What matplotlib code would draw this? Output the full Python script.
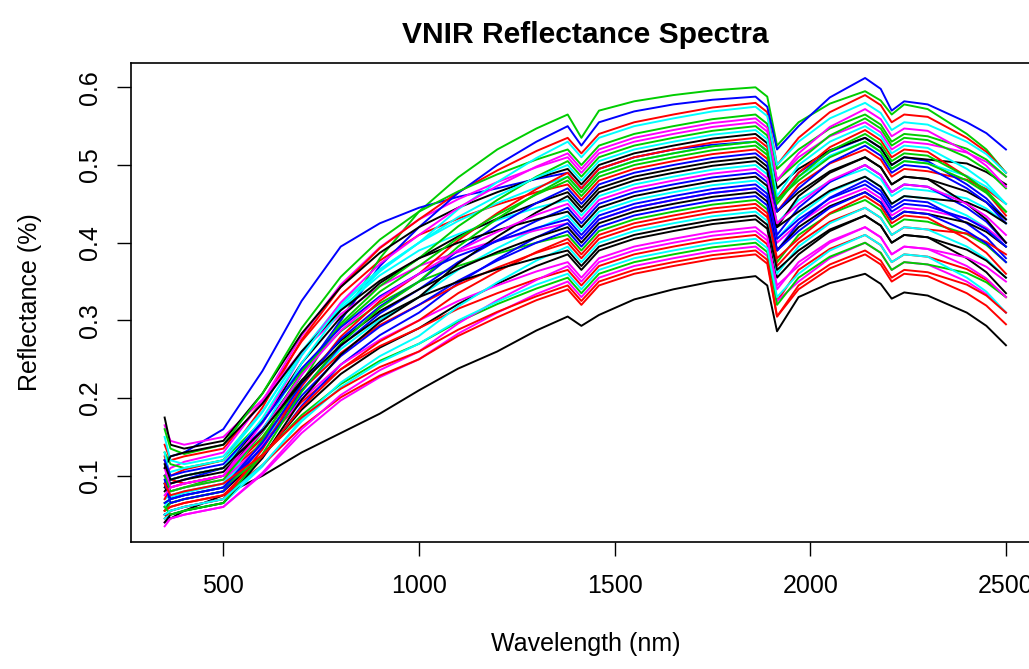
import numpy as np
import matplotlib
matplotlib.use('Agg')
import matplotlib.pyplot as plt

wavelengths = [350, 365, 400, 500, 600, 700, 800, 900, 1000, 1100, 1200, 1300, 1380, 1415, 1460, 1550,
               1650, 1750, 1860, 1890, 1915, 1970, 2050, 2140, 2180, 2208, 2240, 2300, 2400, 2450, 2500]

# one row per sample spectrum, reflectance at the wavelengths above
reflectance = [
    [.050, .045, .055, .075, .100, .130, .155, .180, .210, .238, .260, .287, .305, .293, .307, .327, .340, .350, .357, .345, .286, .330, .348, .360, .347, .328, .336, .332, .310, .293, .268],
    [.140, .120, .125, .135, .196, .273, .333, .377, .410, .431, .449, .465, .475, .455, .480, .495, .505, .514, .520, .508, .440, .475, .502, .520, .507, .485, .495, .492, .481, .469, .450],
    [.090, .080, .085, .100, .150, .220, .300, .380, .440, .484, .520, .547, .565, .535, .570, .582, .590, .596, .600, .588, .525, .555, .579, .595, .583, .565, .578, .572, .540, .520, .490],
    [.120, .125, .130, .160, .235, .325, .395, .425, .445, .459, .470, .482, .490, .470, .495, .510, .520, .526, .530, .518, .455, .490, .517, .535, .522, .500, .510, .505, .475, .457, .430],
    [.070, .075, .080, .090, .143, .210, .263, .301, .330, .365, .393, .418, .435, .415, .440, .455, .465, .474, .480, .468, .405, .435, .465, .485, .472, .450, .460, .457, .435, .419, .395],
    [.100, .110, .118, .130, .196, .280, .346, .394, .430, .456, .478, .497, .510, .490, .515, .530, .540, .549, .555, .543, .480, .510, .537, .555, .542, .520, .530, .527, .516, .504, .485],
    [.060, .065, .070, .080, .126, .185, .231, .265, .290, .321, .347, .370, .385, .365, .390, .405, .415, .424, .430, .418, .355, .385, .415, .435, .422, .400, .410, .407, .380, .362, .335],
    [.125, .100, .108, .120, .188, .275, .343, .393, .430, .465, .493, .518, .535, .515, .540, .555, .565, .574, .580, .568, .500, .535, .568, .590, .577, .555, .565, .562, .535, .517, .490],
    [.130, .115, .110, .120, .171, .235, .286, .322, .350, .370, .386, .400, .410, .390, .415, .430, .440, .449, .455, .443, .375, .410, .437, .455, .442, .420, .430, .427, .411, .397, .375],
    [.100, .090, .095, .110, .160, .230, .300, .370, .420, .464, .500, .530, .550, .525, .555, .569, .578, .584, .588, .575, .520, .550, .587, .612, .598, .570, .582, .578, .555, .541, .520],
    [.150, .120, .115, .125, .183, .258, .316, .358, .390, .411, .429, .445, .455, .435, .460, .475, .485, .494, .500, .488, .425, .455, .479, .495, .482, .460, .470, .467, .457, .444, .425],
    [.165, .145, .140, .150, .198, .260, .308, .344, .370, .388, .403, .416, .425, .405, .430, .445, .455, .464, .470, .458, .400, .425, .452, .470, .457, .435, .445, .442, .431, .419, .400],
    [.175, .140, .135, .145, .206, .283, .343, .387, .420, .445, .465, .483, .495, .475, .500, .515, .525, .534, .540, .528, .470, .495, .519, .535, .522, .500, .510, .507, .502, .491, .475],
    [.120, .095, .090, .100, .142, .195, .237, .267, .290, .315, .335, .353, .365, .345, .370, .385, .395, .404, .410, .398, .325, .365, .392, .410, .397, .375, .385, .382, .366, .352, .330],
    [.160, .135, .128, .140, .206, .290, .356, .404, .440, .466, .488, .507, .520, .500, .525, .540, .550, .559, .565, .553, .495, .520, .547, .565, .552, .530, .540, .537, .521, .507, .485],
    [.050, .055, .060, .070, .123, .190, .243, .281, .310, .348, .379, .407, .425, .405, .430, .445, .455, .464, .470, .458, .390, .425, .458, .480, .467, .445, .455, .452, .425, .407, .380],
    [.090, .105, .110, .120, .182, .260, .322, .366, .400, .428, .451, .471, .485, .465, .490, .505, .515, .524, .530, .518, .455, .485, .512, .530, .517, .495, .505, .502, .486, .472, .450],
    [.040, .045, .050, .060, .102, .155, .197, .227, .250, .283, .310, .334, .350, .330, .355, .370, .380, .389, .395, .383, .325, .350, .380, .400, .387, .365, .375, .372, .350, .334, .310],
    [.085, .095, .100, .110, .169, .245, .304, .348, .380, .408, .431, .451, .465, .445, .470, .485, .495, .504, .510, .498, .440, .465, .492, .510, .497, .475, .485, .482, .466, .452, .430],
    [.070, .085, .090, .100, .148, .210, .258, .294, .320, .346, .368, .387, .400, .380, .405, .420, .430, .439, .445, .433, .370, .400, .427, .445, .432, .410, .420, .417, .412, .401, .385],
    [.055, .065, .070, .080, .146, .230, .296, .344, .380, .421, .455, .485, .505, .485, .510, .525, .535, .544, .550, .538, .480, .505, .538, .560, .547, .525, .535, .532, .510, .494, .470],
    [.090, .065, .070, .080, .137, .210, .267, .309, .340, .375, .403, .428, .445, .425, .450, .465, .475, .484, .490, .478, .410, .445, .478, .500, .487, .465, .475, .472, .445, .427, .400],
    [.060, .072, .078, .090, .158, .245, .313, .363, .400, .443, .478, .509, .530, .510, .535, .550, .560, .569, .575, .563, .500, .530, .560, .580, .567, .545, .555, .552, .530, .514, .490],
    [.100, .080, .085, .095, .140, .198, .243, .275, .300, .325, .345, .363, .375, .355, .380, .395, .405, .414, .420, .408, .340, .375, .402, .420, .407, .385, .395, .392, .381, .369, .350],
    [.080, .090, .095, .105, .157, .223, .274, .312, .340, .366, .388, .407, .420, .400, .425, .440, .450, .459, .465, .453, .390, .420, .447, .465, .452, .430, .440, .437, .426, .414, .395],
    [.045, .055, .060, .070, .134, .215, .279, .325, .360, .403, .438, .469, .490, .470, .495, .510, .520, .529, .535, .523, .455, .490, .523, .545, .532, .510, .520, .517, .485, .465, .435],
    [.065, .070, .075, .085, .126, .178, .218, .248, .270, .298, .321, .341, .355, .335, .360, .375, .385, .394, .400, .388, .320, .355, .382, .400, .387, .365, .375, .372, .361, .349, .330],
    [.065, .070, .075, .085, .143, .218, .276, .318, .350, .390, .422, .451, .470, .450, .475, .490, .500, .509, .515, .503, .440, .470, .503, .525, .512, .490, .500, .497, .470, .452, .425],
    [.045, .050, .055, .065, .112, .173, .220, .254, .280, .318, .349, .377, .395, .375, .400, .415, .425, .434, .440, .428, .360, .395, .425, .445, .432, .410, .420, .417, .395, .379, .355],
    [.110, .085, .090, .100, .168, .255, .323, .373, .410, .445, .473, .498, .515, .495, .520, .535, .545, .554, .560, .548, .480, .515, .549, .572, .559, .537, .547, .544, .517, .499, .472],
    [.110, .125, .130, .140, .193, .260, .313, .351, .380, .400, .416, .430, .440, .420, .445, .460, .470, .479, .485, .473, .420, .440, .467, .485, .472, .450, .460, .457, .452, .441, .425],
    [.055, .060, .065, .075, .114, .163, .201, .229, .250, .280, .304, .326, .340, .320, .345, .360, .370, .379, .385, .373, .305, .340, .367, .385, .372, .350, .360, .357, .335, .319, .295],
    [.100, .080, .085, .095, .156, .233, .293, .337, .370, .406, .436, .462, .480, .460, .485, .500, .510, .519, .525, .513, .455, .480, .510, .530, .517, .495, .505, .502, .480, .464, .440],
    [.095, .070, .075, .085, .137, .203, .254, .292, .320, .351, .377, .400, .415, .395, .420, .435, .445, .454, .460, .448, .390, .415, .445, .465, .452, .430, .440, .437, .415, .399, .375],
    [.130, .095, .100, .110, .174, .255, .319, .365, .400, .433, .460, .484, .500, .480, .505, .520, .530, .539, .545, .533, .460, .500, .530, .550, .537, .515, .525, .522, .495, .477, .450],
    [.035, .045, .050, .060, .104, .160, .204, .236, .260, .296, .326, .352, .370, .350, .375, .390, .400, .409, .415, .403, .345, .370, .400, .420, .407, .385, .395, .392, .370, .354, .330],
    [.040, .050, .055, .065, .123, .198, .256, .298, .330, .373, .408, .439, .460, .440, .465, .480, .490, .499, .505, .493, .420, .460, .490, .510, .497, .475, .485, .482, .450, .430, .400],
    [.055, .060, .065, .075, .125, .188, .237, .273, .300, .335, .363, .388, .405, .385, .410, .425, .435, .444, .450, .438, .380, .405, .438, .460, .447, .425, .435, .432, .405, .387, .360],
    [.060, .050, .055, .065, .128, .208, .270, .316, .350, .395, .431, .463, .485, .465, .490, .505, .515, .524, .530, .518, .450, .485, .518, .540, .527, .505, .515, .512, .485, .467, .440],
    [.120, .100, .105, .115, .169, .238, .291, .331, .360, .383, .402, .419, .430, .410, .435, .450, .460, .469, .475, .463, .405, .430, .457, .475, .462, .440, .450, .447, .431, .417, .395],
    [.050, .055, .060, .070, .114, .170, .214, .246, .270, .300, .324, .346, .360, .340, .365, .380, .390, .399, .405, .393, .330, .360, .390, .410, .397, .375, .385, .382, .355, .337, .310],
    [.075, .085, .090, .100, .157, .230, .287, .329, .360, .390, .414, .436, .450, .430, .455, .470, .480, .489, .495, .483, .425, .450, .480, .500, .487, .465, .475, .472, .450, .434, .410],
    [.115, .095, .100, .110, .158, .220, .268, .304, .330, .350, .366, .380, .390, .370, .395, .410, .420, .429, .435, .423, .365, .390, .417, .435, .422, .400, .410, .407, .391, .377, .355],
    [.090, .075, .080, .090, .127, .175, .212, .240, .260, .288, .311, .331, .345, .325, .350, .365, .375, .384, .390, .378, .305, .345, .372, .390, .377, .355, .365, .362, .346, .332, .310],
]

# old R palette, cycled over the samples like matplot does
line_colors = ['black', '#FF0000', '#00CD00', '#0000FF', '#00FFFF', '#FF00FF']

plt.rcParams['font.family'] = ['Liberation Sans', 'DejaVu Sans']

fig = plt.figure(figsize=(10.29, 6.69), dpi=100)
# the plot box runs a little past the right edge of the picture
ax = fig.add_axes([0.1273, 0.1903, 0.883, 0.716])

for i, spec in enumerate(reflectance):
    ax.plot(wavelengths, spec, color=line_colors[i % len(line_colors)], linewidth=1.4)

ax.set_xlim(264, 2586)
ax.set_ylim(0.0152, 0.6317)
ax.set_xticks([500, 1000, 1500, 2000, 2500])
ax.set_yticks([0.1, 0.2, 0.3, 0.4, 0.5, 0.6])

for s in ax.spines.values():
    s.set_linewidth(1.2)

ax.tick_params(axis='both', direction='out', length=10, width=1.0, labelsize=18)
ax.tick_params(axis='x', pad=13)
ax.tick_params(axis='y', pad=11)
plt.setp(ax.get_yticklabels(), rotation=90, va='center')

ax.set_xlabel('Wavelength (nm)', fontsize=18, va='center')
ax.xaxis.set_label_coords(0.5, -0.2146)
ax.set_ylabel('Reflectance (%)', fontsize=18, va='center')
ax.yaxis.set_label_coords(-0.111, 0.5)

ax.set_title('VNIR Reflectance Spectra', fontsize=21.6, fontweight='bold', pad=14)

plt.savefig('out.png', dpi=100)
